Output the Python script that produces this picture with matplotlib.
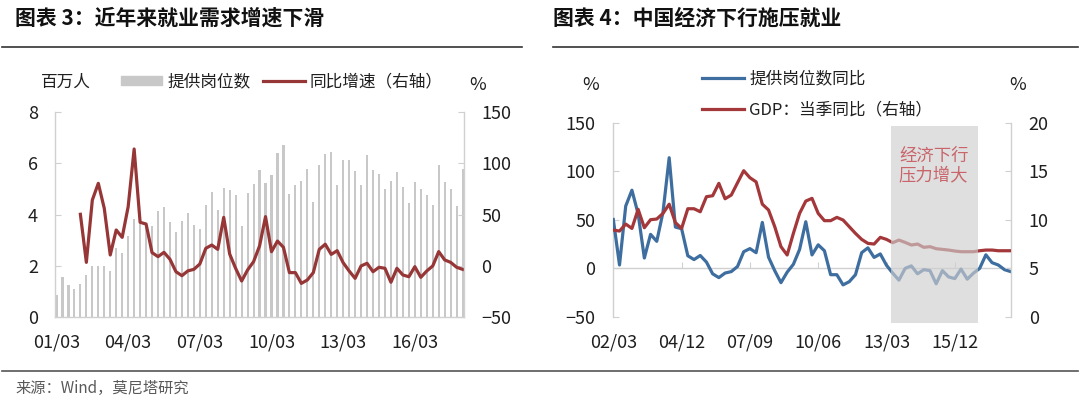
import numpy as np
import matplotlib
matplotlib.use('Agg')
import matplotlib.pyplot as plt
from matplotlib.lines import Line2D
from matplotlib.patches import Patch

plt.rcParams['font.family'] = ['Noto Sans CJK SC', 'DejaVu Sans']

#%% 数据（季度，2001Q1 - 2018Q1）
# 提供岗位数（百万人），2001Q1 起
jobs = [0.86, 1.57, 1.23, 1.10, 1.30, 1.64, 1.99, 1.99, 1.99, 1.79,
        2.68, 2.48, 3.16, 3.82, 3.72, 3.65, 3.57, 4.14, 4.29, 3.69,
        3.31, 3.74, 4.04, 3.58, 3.42, 4.36, 4.86, 4.16, 5.03, 4.94,
        4.77, 3.56, 4.83, 5.18, 5.75, 5.22, 5.53, 6.40, 6.73, 4.79,
        5.17, 5.31, 5.78, 4.49, 5.92, 6.35, 6.44, 5.14, 6.14, 6.12,
        5.70, 5.14, 6.31, 5.75, 5.58, 4.99, 5.30, 5.64, 5.06, 4.43,
        5.25, 4.99, 4.78, 4.39, 5.95, 5.27, 5.01, 4.35, 5.76]

# 提供岗位数同比（%），2002Q1 起
yoy = [50.2, 3.3, 64.1, 80.4, 56.0, 10.5, 34.9, 27.7, 57.6, 113.9,
       42.4, 40.7, 12.8, 8.9, 13.1, 6.3, -5.8, -9.7, -5.0, -3.5,
       1.7, 17.0, 20.2, 16.0, 47.2, 11.4, -2.6, -14.9, -4.1, 4.0,
       19.3, 47.9, 13.7, 24.1, 18.0, -6.7, -6.7, -17.2, -13.9, -6.7,
       16.0, 21.0, 11.1, 14.7, 3.0, -5.1, -12.3, -0.2, 2.4, -5.8,
       -1.5, -2.5, -16.1, -2.5, -9.0, -10.7, -0.9, -11.3, -5.1, -0.2,
       13.8, 5.7, 3.3, -1.5, -3.5]

# GDP 当季同比（%），2002Q1 起
gdp = [8.93, 8.83, 9.55, 9.10, 11.07, 9.17, 10.00, 10.07, 10.65, 11.60,
       9.70, 9.10, 11.13, 11.13, 10.82, 12.37, 12.47, 13.75, 12.16, 12.54,
       13.80, 15.05, 14.33, 13.90, 11.60, 11.00, 9.28, 7.22, 6.36, 8.59,
       10.65, 11.92, 12.20, 10.65, 9.90, 9.90, 10.24, 9.97, 9.28, 8.59,
       7.97, 7.56, 7.49, 8.18, 7.97, 7.63, 7.90, 7.66, 7.39, 7.49,
       7.15, 7.22, 7.01, 6.94, 6.87, 6.77, 6.70, 6.70, 6.70, 6.80,
       6.87, 6.87, 6.80, 6.80, 6.80]

left_ticks = ['01/03', '04/03', '07/03', '10/03', '13/03', '16/03']
right_ticks = ['02/03', '04/12', '07/09', '10/06', '13/03', '15/12']

#%% 样式
W, H = 1080, 408
GRAY = '#c8c8c8'
RED = '#963637'
RED2 = '#a3373a'
BLUE = '#3e6e9f'
AXC = '#d0d0d0'
TXT = '#1f1f1f'


def box(x0, y0, x1, y1):
    return [x0 / W, 1 - y1 / H, (x1 - x0) / W, (y1 - y0) / H]


fig = plt.figure(figsize=(W / 100, H / 100), dpi=100)

# ---------- 图表 3 ----------
ax1 = fig.add_axes(box(54.7, 112, 463.5, 317))
x_all = np.arange(len(jobs))
ax1.bar(x_all, jobs, width=0.36, color=GRAY, zorder=1)
ax1.set_xlim(-0.3, len(jobs) - 0.85)
ax1.set_ylim(0, 8)
ax1.set_yticks([0, 2, 4, 6, 8])
ax1.set_xticks(x_all[::12][:len(left_ticks)])
ax1.set_xticklabels(left_ticks)

ax1r = ax1.twinx()
x_yoy = x_all[len(jobs) - len(yoy):]
ax1r.plot(x_yoy, yoy, color=RED, lw=2.3, solid_joinstyle='round')
ax1r.set_ylim(-50, 150)
ax1r.set_yticks([-50, 0, 50, 100, 150])

for a in (ax1, ax1r):
    for s in a.spines.values():
        s.set_visible(False)
ax1.spines['left'].set_visible(True)
ax1.spines['bottom'].set_visible(True)
ax1r.spines['right'].set_visible(True)
for s in (ax1.spines['left'], ax1.spines['bottom'], ax1r.spines['right']):
    s.set_color(AXC)
    s.set_linewidth(1.0)

ax1.tick_params(axis='y', direction='in', length=4.5, color=AXC,
                labelsize=13, labelcolor=TXT, pad=12)
ax1r.tick_params(axis='y', direction='in', length=4.5, color=AXC,
                 labelsize=13, labelcolor=TXT, pad=13)
ax1.tick_params(axis='x', length=0, labelsize=13, labelcolor=TXT, pad=12)

ax1.legend(handles=[Patch(color=GRAY), Line2D([], [], color=RED, lw=2.3)],
           labels=['提供岗位数', '同比增速（右轴）'], ncol=2,
           loc='center left', bbox_to_anchor=(120.7 / W, 1 - 82 / H),
           bbox_transform=fig.transFigure, frameon=False, fontsize=12,
           borderpad=0, borderaxespad=0, handlelength=2.5, handleheight=0.46,
           handletextpad=0.3, columnspacing=0.75, labelcolor=TXT)

fig.text(41.4 / W, 1 - 82 / H, '百万人', fontsize=12, va='center', color=TXT)
fig.text(477.6 / W, 1 - 85 / H, '%', fontsize=13, ha='center', va='center', color=TXT)

# ---------- 图表 4 ----------
ax2 = fig.add_axes(box(613.3, 122.7, 1010.7, 316.7))
x_r = np.arange(len(yoy))
ax2.axhline(0, color=AXC, lw=1.0, zorder=1)
ax2.plot(x_r, yoy, color=BLUE, lw=2.3, zorder=3, solid_joinstyle='round')
ax2.set_xlim(0, len(yoy) - 1)
ax2.set_ylim(-50, 150)
ax2.set_yticks([-50, 0, 50, 100, 150])
r_pos = x_r[::11][:len(right_ticks)]
ax2.set_xticks(r_pos)
ax2.set_xticklabels(right_ticks)

sec = ax2.secondary_xaxis(0.25)
sec.set_xticks(r_pos[1:])
sec.tick_params(axis='x', direction='in', length=4.5, color=AXC,
                labelbottom=False)
for s in sec.spines.values():
    s.set_visible(False)

ax2r = ax2.twinx()
ax2r.plot(x_r, gdp, color=RED2, lw=2.3, zorder=3, solid_joinstyle='round')
ax2r.set_ylim(0, 20)
ax2r.set_yticks([0, 5, 10, 15, 20])
ax2r.axvspan(44.8, 58.7, ymin=-0.03, ymax=0.983, color='#cfcfcf',
             alpha=0.65, lw=0, zorder=5, clip_on=False)
ax2r.text(51.6, 15.6, '经济下行\n压力增大', ha='center', va='center',
          fontsize=12.5, color='#c8646a', style='italic', linespacing=1.1,
          zorder=6)

for a in (ax2, ax2r):
    for s in a.spines.values():
        s.set_visible(False)
ax2.spines['left'].set_visible(True)
ax2r.spines['right'].set_visible(True)
for s in (ax2.spines['left'], ax2r.spines['right']):
    s.set_color(AXC)
    s.set_linewidth(1.0)

ax2.tick_params(axis='y', direction='in', length=4.5, color=AXC,
                labelsize=13, labelcolor=TXT, pad=13)
ax2r.tick_params(axis='y', direction='in', length=4.5, color=AXC,
                 labelsize=13, labelcolor=TXT, pad=13)
ax2.tick_params(axis='x', length=0, labelsize=13, labelcolor=TXT, pad=12)

ax2.legend(handles=[Line2D([], [], color=BLUE, lw=2.3),
                    Line2D([], [], color=RED2, lw=2.3)],
           labels=['提供岗位数同比', 'GDP：当季同比（右轴）'],
           loc='center left', bbox_to_anchor=(702 / W, 1 - 94.5 / H),
           bbox_transform=fig.transFigure, frameon=False, fontsize=12,
           borderpad=0, borderaxespad=0, handlelength=2.5,
           handletextpad=0.34, labelspacing=0.85, labelcolor=TXT)

fig.text(591 / W, 1 - 85 / H, '%', fontsize=13, ha='center', va='center', color=TXT)
fig.text(1018 / W, 1 - 85 / H, '%', fontsize=13, ha='center', va='center', color=TXT)

# ---------- 标题、分隔线、来源 ----------
fig.text(15 / W, 1 - 18 / H, '图表 3：近年来就业需求增速下滑', fontsize=15,
         fontweight='bold', va='center', color='#111111')
fig.text(553 / W, 1 - 18 / H, '图表 4：中国经济下行施压就业', fontsize=15,
         fontweight='bold', va='center', color='#111111')
fig.add_artist(Line2D([2 / W, 522 / W], [1 - 46.7 / H] * 2, color='#333333', lw=1.2))
fig.add_artist(Line2D([553 / W, 1078 / W], [1 - 46.7 / H] * 2, color='#333333', lw=1.2))
fig.add_artist(Line2D([2 / W, 1078 / W], [1 - 371 / H] * 2, color='#555555', lw=1.2))
fig.text(15 / W, 1 - 388 / H, '来源：Wind，莫尼塔研究', fontsize=11,
         va='center', color='#595959')

fig.savefig('out.png', dpi=100)
